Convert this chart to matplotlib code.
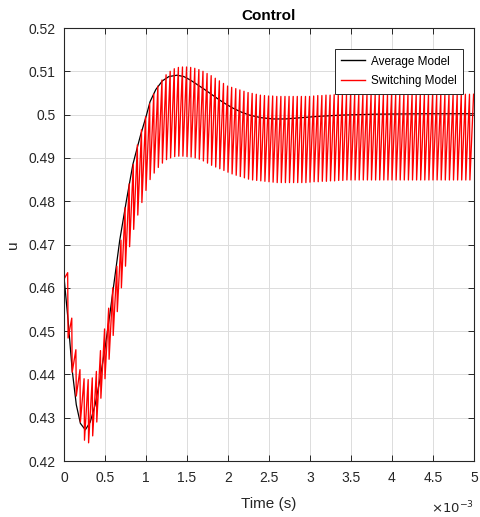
import numpy as np
import matplotlib
matplotlib.use('Agg')
import matplotlib.pyplot as plt
from matplotlib.ticker import FuncFormatter, MultipleLocator

plt.rcParams['font.family'] = ['Liberation Sans', 'DejaVu Sans']

# Average model: time (ms) and control value
t_avg = [0.00, 0.05, 0.10, 0.15, 0.20, 0.26, 0.32, 0.38, 0.44, 0.50, 0.56, 0.62,
         0.68, 0.76, 0.84, 0.93, 1.00, 1.05, 1.12, 1.20, 1.28, 1.38, 1.46, 1.54,
         1.62, 1.70, 1.79, 1.88, 1.96, 2.06, 2.16, 2.26, 2.40, 2.55, 2.70, 2.90,
         3.10, 3.40, 3.80, 4.40, 5.00]
u_avg = [0.4625, 0.4525, 0.4410, 0.4330, 0.4287, 0.4272, 0.4290, 0.4330, 0.4390,
         0.4460, 0.4540, 0.4625, 0.4710, 0.4800, 0.4885, 0.4950, 0.4995, 0.5030,
         0.5058, 0.5078, 0.5088, 0.5091, 0.5088, 0.5080, 0.5070, 0.5060, 0.5048,
         0.5036, 0.5026, 0.5015, 0.5006, 0.4999, 0.4993, 0.4990, 0.4990, 0.4993,
         0.4996, 0.4999, 0.5001, 0.5002, 0.5002]

# Switching model: one peak and one trough per 50 us switching cycle (100 cycles)
sw_period_ms = 0.05
sw_trough = [0.4620, 0.4484, 0.4405, 0.4350, 0.4290, 0.4248, 0.4242, 0.4258, 0.4290, 0.4345,
             0.4390, 0.4435, 0.4490, 0.4545, 0.4600, 0.4650, 0.4695, 0.4735, 0.4768, 0.4797,
             0.4825, 0.4850, 0.4865, 0.4878, 0.4888, 0.4896, 0.4900, 0.4903, 0.4904, 0.4904,
             0.4903, 0.4902, 0.4900, 0.4897, 0.4893, 0.4888, 0.4883, 0.4879, 0.4875, 0.4871,
             0.4867, 0.4863, 0.4860, 0.4857, 0.4854, 0.4851, 0.4849, 0.4848, 0.4847, 0.4846,
             0.4845, 0.4844, 0.4843, 0.4843, 0.4843, 0.4843, 0.4843, 0.4843, 0.4843, 0.4843,
             0.4844, 0.4845, 0.4845, 0.4846, 0.4846, 0.4847, 0.4847, 0.4848, 0.4848, 0.4849,
             0.4849, 0.4849, 0.4849, 0.4849, 0.4849, 0.4849, 0.4849, 0.4849, 0.4849, 0.4849,
             0.4849, 0.4849, 0.4849, 0.4849, 0.4849, 0.4849, 0.4849, 0.4849, 0.4849, 0.4849,
             0.4849, 0.4849, 0.4849, 0.4849, 0.4849, 0.4849, 0.4849, 0.4849, 0.4849, 0.4849]
sw_peak = [0.4635, 0.4530, 0.4457, 0.4411, 0.4390, 0.4388, 0.4392, 0.4407, 0.4455, 0.4505,
           0.4553, 0.4600, 0.4650, 0.4710, 0.4785, 0.4840, 0.4885, 0.4930, 0.4965, 0.4995,
           0.5025, 0.5048, 0.5066, 0.5080, 0.5092, 0.5100, 0.5106, 0.5109, 0.5110, 0.5110,
           0.5109, 0.5107, 0.5104, 0.5100, 0.5095, 0.5090, 0.5084, 0.5078, 0.5072, 0.5066,
           0.5063, 0.5060, 0.5057, 0.5054, 0.5051, 0.5049, 0.5047, 0.5045, 0.5044, 0.5043,
           0.5043, 0.5042, 0.5042, 0.5042, 0.5042, 0.5042, 0.5042, 0.5042, 0.5042, 0.5042,
           0.5043, 0.5044, 0.5044, 0.5045, 0.5045, 0.5046, 0.5046, 0.5047, 0.5047, 0.5047,
           0.5047, 0.5047, 0.5047, 0.5047, 0.5047, 0.5047, 0.5047, 0.5047, 0.5047, 0.5047,
           0.5047, 0.5047, 0.5047, 0.5047, 0.5047, 0.5047, 0.5047, 0.5047, 0.5047, 0.5047,
           0.5047, 0.5047, 0.5047, 0.5047, 0.5047, 0.5047, 0.5047, 0.5047, 0.5047, 0.5047]

# sawtooth: ramp from trough to peak, then sharp drop at the next cycle
n = len(sw_peak)
t_tr = np.arange(n) * sw_period_ms
t_pk = t_tr + 0.9 * sw_period_ms
t_sw = np.empty(2 * n)
u_sw = np.empty(2 * n)
t_sw[0::2], t_sw[1::2] = t_tr, t_pk
u_sw[0::2], u_sw[1::2] = sw_trough, sw_peak

ink = '#262626'
fig = plt.figure(figsize=(4.8, 5.17), dpi=100)
ax = fig.add_axes([0.1333, 0.1083, 0.8542, 0.8375])

ax.plot(np.array(t_avg) * 1e-3, u_avg, color='black', lw=0.9, label='Average Model')
ax.plot(t_sw * 1e-3, u_sw, color='red', lw=0.95, label='Switching Model')

ax.set_xlim(0, 5e-3)
ax.set_ylim(0.42, 0.52)
ax.xaxis.set_major_locator(MultipleLocator(0.5e-3))
ax.yaxis.set_major_locator(MultipleLocator(0.01))
ax.xaxis.set_major_formatter(FuncFormatter(lambda v, p: f'{v * 1e3:g}'))
ax.yaxis.set_major_formatter(FuncFormatter(lambda v, p: f'{round(v, 2):g}'))
ax.tick_params(direction='in', length=4, width=0.7, colors=ink, labelsize=10,
               top=True, right=True)
ax.tick_params(axis='x', pad=7)
ax.tick_params(axis='y', pad=6)
for s in ax.spines.values():
    s.set_color(ink)
    s.set_linewidth(0.8)
ax.grid(True, color='#dcdcdc', lw=0.7)
ax.set_axisbelow(True)

ax.set_title('Control', fontsize=11, fontweight='bold', color='black', pad=6)
ax.set_xlabel('Time (s)', fontsize=11, color=ink, labelpad=9)
ax.set_ylabel('u', fontsize=11, color=ink, labelpad=6)
ax.text(1.0, -0.09, r'$\times 10^{-3}$', transform=ax.transAxes, ha='right', va='top',
        fontsize=9.5, color=ink)

leg = ax.legend(loc='upper right', bbox_to_anchor=(0.988, 0.965), fontsize=8.5,
                fancybox=False, framealpha=1, edgecolor=ink, handlelength=2.0,
                handletextpad=0.5, borderpad=0.55, labelspacing=0.65)
leg.get_frame().set_linewidth(0.7)
for line in leg.get_lines():
    line.set_linewidth(1.0)

fig.savefig('out.png', dpi=100)
